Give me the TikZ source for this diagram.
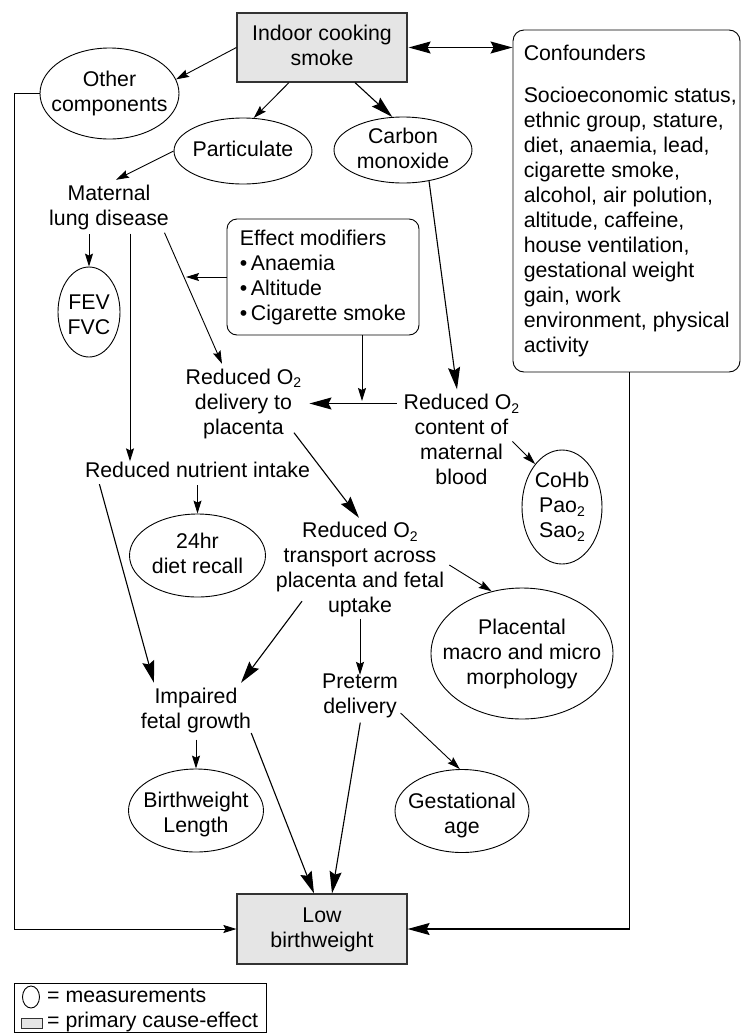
\documentclass[tikz,border=0pt]{standalone}
\usepackage{fontspec}
\setmainfont{Liberation Sans}
\usetikzlibrary{arrows.meta,shapes.geometric,calc}
\newcommand\sx{\rule[-5pt]{0pt}{21pt}}
\newcommand\subtwo{\raisebox{-0.35ex}{\fontsize{14pt}{14pt}\selectfont 2}}
\begin{document}
\begin{tikzpicture}[x=1pt,y=-1pt,
  font=\fontsize{21.3pt}{25pt}\selectfont,
  thinarr/.style={-{Stealth[length=13pt,width=8pt,inset=2pt]}, line width=0.9pt},
  thickarr/.style={-{Stealth[length=22pt,width=12pt,inset=3pt]}, line width=1.1pt},
  ell/.style={draw, ellipse, line width=0.9pt, inner sep=0pt},
  lbl/.style={align=center, inner sep=0pt},
  gbox/.style={draw=black!80, fill=black!10, line width=1.2pt, inner sep=0pt, align=center},
  rbox/.style={draw, rounded corners=10pt, line width=0.9pt, inner sep=0pt},
  txt/.style={align=center, inner sep=0pt}]
\useasboundingbox (0,0) rectangle (741,1034);

% nodes
\node[gbox, minimum width=170, minimum height=69] (smoke) at (322,47.5) {Indoor cooking\sx\\smoke\sx};
\node[rbox, rounded corners=11pt, minimum width=227, minimum height=342,
  label={[anchor=north west, align=left, inner sep=0pt, xshift=11pt, yshift=-14.5pt]north west:{Confounders\sx\\[17pt]Socioeconomic status,\\ethnic group, stature,\\diet, anaemia, lead,\\cigarette smoke,\\alcohol, air polution,\\altitude, caffeine,\\house ventilation,\\gestational weight\\gain, work\\environment, physical\\activity\sx}}] (conf) at (626.5,201) {};
\node[ell, minimum width=139, minimum height=91, label={[lbl]center:{Other\sx\\components\sx}}] (other) at (109.5,93.5) {};
\node[ell, minimum width=138, minimum height=66, label={[lbl]center:{Particulate\sx}}] (part) at (243,151) {};
\node[ell, minimum width=138, minimum height=66, label={[lbl]center:{Carbon\sx\\monoxide\sx}}] (co) at (403,150) {};
\node[txt] (mat) at (109,207.5) {Maternal\sx\\lung disease\sx};
\node[ell, minimum width=62, minimum height=90, label={[lbl, yshift=-4pt]center:{FEV\sx\\FVC\sx}}] (fev) at (89,312) {};
\node[rbox, minimum width=192, minimum height=116, align=left] (mod) at (323,277) {Effect modifiers\sx\\\textbullet\,Anaemia\\\textbullet\,Altitude\\\textbullet\,Cigarette smoke\sx};
\node[txt] (deliv) at (243.5,403.5) {Reduced O\subtwo\sx\\delivery to\\placenta\sx};
\node[txt] (content) at (461.5,441.5) {Reduced O\subtwo\sx\\content of\\maternal\\blood\sx};
\node[ell, minimum width=80, minimum height=114, label={[lbl]center:{CoHb\sx\\Pao\subtwo\\Sao\subtwo\sx}}] (cohb) at (562,507) {};
\node[txt] (nutr) at (197.5,472) {Reduced nutrient intake\sx};
\node[ell, minimum width=136, minimum height=83, label={[lbl]center:{24hr\sx\\diet recall\sx}}] (recall) at (197.5,555.5) {};
\node[txt] (trans) at (360,569.5) {Reduced O\subtwo\sx\\transport across\\placenta and fetal\\uptake\sx};
\node[ell, minimum width=182, minimum height=131, label={[lbl]center:{Placental\sx\\macro and micro\\morphology\sx}}] (plac) at (522,653.5) {};
\node[txt] (impair) at (196,710.5) {Impaired\sx\\fetal growth\sx};
\node[txt] (preterm) at (360,695) {Preterm\sx\\delivery\sx};
\node[ell, minimum width=135, minimum height=83, label={[lbl, yshift=-4pt]center:{Birthweight\sx\\Length\sx}}] (bwlen) at (196,810.5) {};
\node[ell, minimum width=134, minimum height=83, label={[lbl, yshift=-4pt]center:{Gestational\sx\\age\sx}}] (gest) at (462,811) {};
\node[gbox, minimum width=170, minimum height=70] (lbw) at (322,929) {Low\sx\\birthweight\sx};

% legend
\node[draw, line width=0.9pt, minimum width=252, minimum height=49, inner sep=0pt] (legend) at (140,1007.5) {};
\node[ell, minimum width=17, minimum height=22] (legell) at (31,997) {};
\node[anchor=west, inner sep=0pt] (legtxt1) at (47,997) {= measurements\sx};
\node[draw=black!80, fill=black!10, line width=0.9pt, minimum width=21, minimum height=10, inner sep=0pt] (legbox) at (31.5,1023) {};
\node[anchor=west, inner sep=0pt] (legtxt2) at (47,1022) {= primary cause-effect\sx};

% connectors
\draw[thinarr] (smoke.west) -- (other.12);
\draw[thinarr] ([xshift=-33pt]smoke.south) -- (part.72);
\draw[thickarr] ([xshift=33pt]smoke.south) -- (co.108);
\draw[{Stealth[length=22pt,width=12pt,inset=3pt]}-{Stealth[length=22pt,width=12pt,inset=3pt]}, line width=1.1pt, shorten <=1pt]
  (smoke.east) -- (smoke.east -| conf.west);
\draw[thinarr] (part.west) -- ([xshift=7pt,yshift=4.5pt]mat.north);
\draw[thinarr, shorten <=3.5pt] (mat.south -| fev.north) -- (fev.north);
\draw[thinarr, shorten <=3pt] ([xshift=21pt]mat.south) -- ([xshift=21pt]mat.south |- nutr.north);
\draw[thinarr] ([xshift=55.5pt,yshift=-2pt]mat.south) -- coordinate[pos=0.34] (hit) ([xshift=-21.5pt,yshift=4pt]deliv.north);
\draw[thinarr, shorten >=2pt] (mod.west) -- (mod.west -| hit);
\draw[thickarr] (co.-50) -- ([xshift=-4.5pt,yshift=4pt]content.north);
\draw[thinarr, shorten >=2.5pt] ([xshift=39pt]mod.south) -- ([xshift=39pt]mod.south |- deliv.east);
\draw[thickarr, shorten <=7pt, shorten >=8pt] (content.west |- deliv.east) -- (deliv.east);
\draw[thinarr] ([xshift=-7pt]content.east) -- (cohb.122);
\draw[thinarr, shorten <=2.5pt] (nutr.south) -- (recall.north);
\draw[thickarr, shorten <=1.5pt] ([xshift=-98.5pt]nutr.south) -- ([xshift=-42pt,yshift=4.5pt]impair.north);
\draw[thickarr] ([xshift=50.5pt,yshift=6.5pt]deliv.south) -- ([xshift=-1pt,yshift=3.5pt]trans.north);
\draw[thinarr] ([xshift=5pt,yshift=4.5pt]trans.east) -- (plac.116);
\draw[thickarr] ([xshift=-58pt,yshift=16.5pt]trans.south) -- ([xshift=45pt,yshift=4.5pt]impair.north);
\draw[thinarr, shorten <=1pt, shorten >=-3pt] (trans.south) -- (preterm.north);
\draw[thinarr, shorten <=6pt] (impair.south) -- (bwlen.north);
\draw[thinarr] ([xshift=2.5pt,yshift=-18pt]preterm.east) -- (gest.93);
\draw[thickarr] ([yshift=-22.5pt]impair.east) -- ([xshift=-8pt]lbw.north);
\draw[thickarr, shorten <=4.5pt] ([xshift=1pt]preterm.south) -- ([xshift=10pt]lbw.north);
\draw[thinarr] (other.west) -- ([xshift=-25pt]other.west) |- (lbw.west);
\draw[thickarr] ([xshift=3pt]conf.south) |- (lbw.east);
\end{tikzpicture}
\end{document}
